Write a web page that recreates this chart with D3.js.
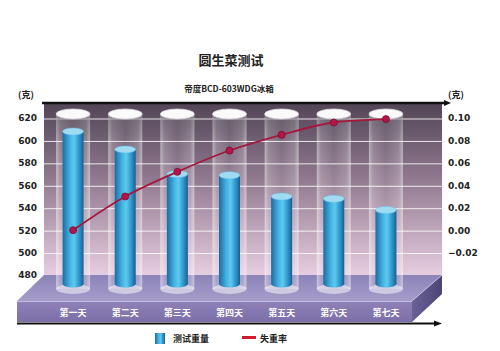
<!DOCTYPE html>
<html><head><meta charset="utf-8">
<script src="https://cdn.jsdelivr.net/npm/d3@7"></script>
<style>body{margin:0;background:#fff}svg{display:block;font-family:"Noto Sans CJK SC","Noto Sans",sans-serif}</style>
</head><body><svg id="c" width="500" height="351"></svg>
<script>
const title = "圆生菜测试";
const subtitle = "帝度BCD-603WDG冰箱";
const categories = ["第一天","第二天","第三天","第四天","第五天","第六天","第七天"];
const weights = [608, 592, 570, 569, 550, 548, 538];
const lossRates = [0.000, 0.030, 0.052, 0.071, 0.085, 0.096, 0.099];
const leftTicks = [480, 500, 520, 540, 560, 580, 600, 620];
const rightTicks = [-0.02, 0.00, 0.02, 0.04, 0.06, 0.08, 0.10];
const seriesNames = ["测试重量", "失重率"];
const unitLabel = "(克)";

const svg = d3.select("#c");
const defs = svg.append("defs");
const W = {x0: 44, x1: 442, y0: 103, y1: 275};
const F = {x0: 17, x1: 412, top: 301, bot: 322};
const yL = d3.scaleLinear().domain([480, 620]).range([275, 118]);
const yR = d3.scaleLinear().domain([-0.04, 0.10]).range([275, 118]);
const x = d3.scaleBand().domain(categories).range([47, 412]);

// gradients
const gWall = defs.append("linearGradient").attr("id","wall").attr("x1",0).attr("y1",0).attr("x2",0).attr("y2",1);
gWall.append("stop").attr("offset","0").attr("stop-color","#524556");
gWall.append("stop").attr("offset","0.45").attr("stop-color","#927a91");
gWall.append("stop").attr("offset","1").attr("stop-color","#e6cde0");
const gBlue = defs.append("linearGradient").attr("id","blue").attr("x1",0).attr("y1",0).attr("x2",1).attr("y2",0);
[["0","#1c6aa0"],["0.35","#43b3e2"],["0.55","#5ec9ef"],["0.8","#2d93c9"],["1","#1a5e90"]].forEach(s=>gBlue.append("stop").attr("offset",s[0]).attr("stop-color",s[1]));
const gGlass = defs.append("linearGradient").attr("id","glass").attr("x1",0).attr("y1",0).attr("x2",1).attr("y2",0);
[["0",0.5],["0.12",0.22],["0.5",0.07],["0.88",0.22],["1",0.5]].forEach(s=>gGlass.append("stop").attr("offset",s[0]).attr("stop-color","#ffffff").attr("stop-opacity",s[1]));
const gShade = defs.append("linearGradient").attr("id","shade").attr("x1",0).attr("y1",0).attr("x2",0).attr("y2",1);
gShade.append("stop").attr("offset","0").attr("stop-color","#6b6470").attr("stop-opacity",0.45);
gShade.append("stop").attr("offset","1").attr("stop-color","#6b6470").attr("stop-opacity",0);
const gSide = defs.append("linearGradient").attr("id","side").attr("x1",0).attr("y1",0).attr("x2",1).attr("y2",0);
gSide.append("stop").attr("offset","0").attr("stop-color","#6a6196");
gSide.append("stop").attr("offset","1").attr("stop-color","#4d4575");
const gFront = defs.append("linearGradient").attr("id","front").attr("x1",0).attr("y1",0).attr("x2",0).attr("y2",1);
gFront.append("stop").attr("offset","0").attr("stop-color","#8f82b8");
gFront.append("stop").attr("offset","1").attr("stop-color","#7c6ea8");
const gFloor = defs.append("linearGradient").attr("id","floor").attr("x1",0).attr("y1",0).attr("x2",0).attr("y2",1);
gFloor.append("stop").attr("offset","0").attr("stop-color","#8c83b8");
gFloor.append("stop").attr("offset","1").attr("stop-color","#a69dcb");

// back wall
svg.append("rect").attr("x",W.x0).attr("y",W.y0).attr("width",W.x1-W.x0).attr("height",W.y1-W.y0).attr("fill","url(#wall)");
// gridlines
svg.append("g").selectAll("line").data(leftTicks.slice(1)).join("line")
  .attr("x1",W.x0).attr("x2",W.x1).attr("y1",d=>yL(d)+1).attr("y2",d=>yL(d)+1)
  .attr("stroke","#fff").attr("stroke-opacity",0.85).attr("stroke-width",1);
// top arrow line
svg.append("line").attr("x1",W.x0-2).attr("x2",W.x1+4).attr("y1",W.y0).attr("y2",W.y0).attr("stroke","#111").attr("stroke-width",2.5);
svg.append("path").attr("d",`M${W.x1+2},${W.y0-3}L${W.x1+9},${W.y0}L${W.x1+2},${W.y0+3}Z`).attr("fill","#111");

// floor
svg.append("path").attr("d",`M${W.x0},${W.y1}L${W.x1},${W.y1}L${F.x1},${F.top}L${F.x0},${F.top}Z`).attr("fill","url(#floor)");
svg.append("path").attr("d",`M${F.x1},${F.top}L${W.x1},${W.y1}L${W.x1},${W.y1+19}L${F.x1},${F.bot}Z`).attr("fill","url(#side)");
svg.append("line").attr("x1",F.x1).attr("y1",F.top).attr("x2",W.x1).attr("y2",W.y1).attr("stroke","#cfc8ea").attr("stroke-width",0.8);
svg.append("rect").attr("x",F.x0).attr("y",F.top).attr("width",F.x1-F.x0).attr("height",F.bot-F.top).attr("fill","url(#front)");
svg.append("line").attr("x1",F.x0).attr("x2",F.x1).attr("y1",F.top+0.5).attr("y2",F.top+0.5).attr("stroke","#c4bce0").attr("stroke-width",1);
// bottom arrow line
svg.append("line").attr("x1",F.x0).attr("x2",436).attr("y1",323.5).attr("y2",323.5).attr("stroke","#111").attr("stroke-width",2);
svg.append("path").attr("d","M434,320.5L442,323.5L434,326.5Z").attr("fill","#111");

// cylinders
const gl = svg.append("g");
const bw = 21, gw = 34, ry = 4, glassTop = 114, glassBot = 289, barBot = 284;
categories.forEach((c,i)=>{
  const cx = x(c) + x.bandwidth()/2;
  const g = gl.append("g");
  g.append("ellipse").attr("cx",cx).attr("cy",glassBot).attr("rx",gw/2).attr("ry",ry+1).attr("fill","#fff").attr("fill-opacity",0.5);
  g.append("rect").attr("x",cx-gw/2).attr("y",glassTop).attr("width",gw).attr("height",glassBot-glassTop).attr("fill","url(#glass)");
  g.append("rect").attr("x",cx-gw/2).attr("y",glassTop).attr("width",gw).attr("height",28).attr("fill","url(#shade)");
  const top = yL(weights[i]);
  g.append("rect").attr("x",cx-bw/2).attr("y",top).attr("width",bw).attr("height",barBot-top).attr("fill","url(#blue)");
  g.append("ellipse").attr("cx",cx).attr("cy",barBot).attr("rx",bw/2).attr("ry",3.5).attr("fill","url(#blue)");
  g.append("ellipse").attr("cx",cx).attr("cy",top).attr("rx",bw/2).attr("ry",3.5).attr("fill","#9fdcf3").attr("stroke","#6cc3e8").attr("stroke-width",0.5);
  g.append("ellipse").attr("cx",cx).attr("cy",glassTop).attr("rx",gw/2).attr("ry",ry+1).attr("fill","#fafafa").attr("stroke","#d8d3dc").attr("stroke-width",0.8);
});

// line series
const pts = categories.map((c,i)=>[x(c)+x.bandwidth()/2, yR(lossRates[i])]);
svg.append("path").attr("d", d3.line().curve(d3.curveMonotoneX)(pts))
  .attr("fill","none").attr("stroke","#a3183c").attr("stroke-width",1.8);
svg.append("g").selectAll("circle").data(pts).join("circle")
  .attr("cx",d=>d[0]).attr("cy",d=>d[1]).attr("r",3.5)
  .attr("fill","#b5144a").attr("stroke","#7a0d2c").attr("stroke-width",0.8);

// axes
const axL = svg.append("g").attr("transform","translate(37,0)")
  .call(d3.axisLeft(yL).tickValues(leftTicks).tickSize(0).tickPadding(0).tickFormat(d3.format("d")));
const axR = svg.append("g").attr("transform","translate(448,0)")
  .call(d3.axisRight(yR).tickValues(rightTicks).tickSize(0).tickPadding(0).tickFormat(d3.format(".2f")));
[axL, axR].forEach(a=>{
  a.select(".domain").remove();
  a.selectAll("text").attr("font-size",9).attr("font-weight","bold").attr("fill","#222").attr("font-family","'DejaVu Sans',sans-serif");
});

svg.append("text").attr("x",18).attr("y",98).attr("font-size",9).attr("font-weight","bold").attr("fill","#222").text(unitLabel);
svg.append("text").attr("x",448).attr("y",98).attr("font-size",9).attr("font-weight","bold").attr("fill","#222").text(unitLabel);

// category labels
svg.append("g").selectAll("text").data(categories).join("text")
  .attr("x",d=>x(d)+x.bandwidth()/2).attr("y",316).attr("text-anchor","middle")
  .attr("font-size",9).attr("font-weight","bold").attr("fill","#fff").text(d=>d);

// titles
svg.append("text").attr("x",231).attr("y",65).attr("text-anchor","middle").attr("font-size",13).attr("font-weight","bold").attr("fill","#222").text(title);
svg.append("text").attr("x",229).attr("y",92).attr("text-anchor","middle").attr("font-size",8.5).attr("font-weight","bold").attr("fill","#222").text(subtitle);

// legend
svg.append("rect").attr("x",155).attr("y",333).attr("width",10).attr("height",11).attr("fill","url(#blue)");
svg.append("text").attr("x",173).attr("y",342).attr("font-size",9).attr("font-weight","bold").attr("fill","#222").text(seriesNames[0]);
svg.append("line").attr("x1",242).attr("x2",256).attr("y1",337.5).attr("y2",337.5).attr("stroke","#d01c2c").attr("stroke-width",3);
svg.append("text").attr("x",260).attr("y",342).attr("font-size",9).attr("font-weight","bold").attr("fill","#222").text(seriesNames[1]);
</script></body></html>
